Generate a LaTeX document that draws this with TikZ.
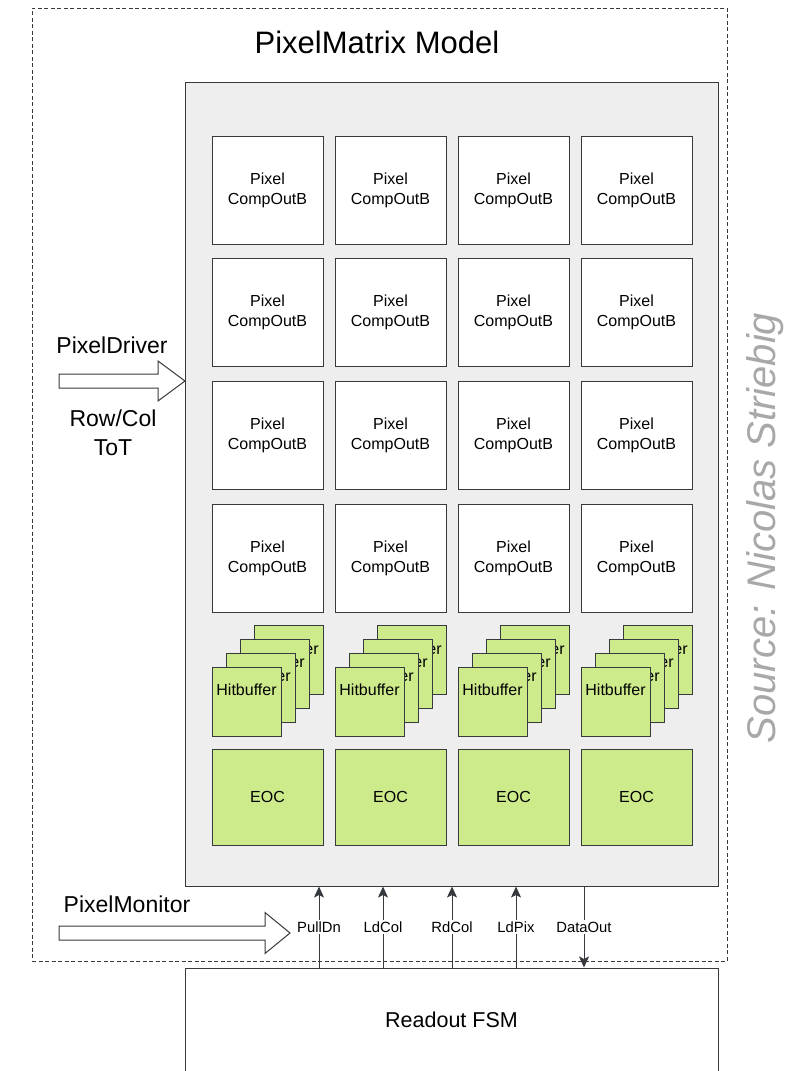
\documentclass[tikz,border=0pt]{standalone}
\usepackage{fontspec}
\setmainfont{Liberation Sans}
\usetikzlibrary{arrows.meta,calc}

\definecolor{panel}{HTML}{EEEEEE}
\definecolor{leaf}{HTML}{CDEB8B}
\definecolor{edge}{HTML}{36393D}
\definecolor{credit}{HTML}{A8A8A8}

\begin{document}
\begin{tikzpicture}[x=1pt, y=-1pt,
    box/.style={draw=edge, line width=1pt, inner sep=0pt, align=center},
    pixbox/.style={box, fill=white, minimum width=111pt, minimum height=108pt, font=\fontsize{16}{20}\selectfont},
    hitbox/.style={box, fill=leaf, minimum width=69pt, minimum height=69pt,
        label={[anchor=center, yshift=-23pt, font=\fontsize{16}{20}\selectfont]north:Hitbuffer}},
    eocbox/.style={box, fill=leaf, minimum width=111pt, minimum height=96pt, font=\fontsize{16}{20}\selectfont},
    bigarrow/.style={draw=edge, fill=white, line width=1pt, line join=miter},
    sig/.style={draw=edge, line width=1pt, -{Stealth[length=11pt, width=10pt, inset=2.5pt]}},
    sigl/.style={fill=white, inner sep=1.5pt, font=\fontsize{14.8}{16}\selectfont},
    side/.style={align=center, font=\fontsize{23}{29}\selectfont}]
    \useasboundingbox (0,0) rectangle (797,1071);
    \node[draw=edge, line width=1pt, dash pattern=on 4pt off 2.5pt, minimum width=695pt, minimum height=953pt] (model) at (379.5,484.5) {};
    \node[font=\fontsize{31}{36}\selectfont] (title) at (377,42) {PixelMatrix Model};
    \node[box, fill=panel, minimum width=533pt, minimum height=804pt] (matrix) at (451.5,484) {};
    \foreach \c in {0,...,3}{
        \foreach \r in {0,...,3}
            \node[pixbox] (px\r\c) at (267.5+123*\c, 190+122.7*\r) {Pixel\\CompOutB};
        \foreach \k in {3,2,1,0}
            \node[hitbox] (hb\c\k) at (246.5+123*\c+14*\k, 701.5-13.7*\k) {};
        \node[eocbox] (eoc\c) at (267.5+123*\c, 797) {EOC};
    }
    \node[box, fill=white, minimum width=533pt, minimum height=104pt, font=\fontsize{21.5}{26}\selectfont] (fsm) at (451.5,1020) {Readout FSM};
    \node[side] (driver) at (112,345) {PixelDriver};
    \node[side] (rowcol) at (113,432.5) {Row/Col\\ToT};
    \node[side] (monitor) at (127,904) {PixelMonitor};
    \coordinate (DrvTip) at (185,381);
    \draw[bigarrow] (DrvTip) -- ++(-27,-20) -- ++(0,13) -- ++(-99,0) -- ++(0,14) -- ++(99,0) -- ++(0,13) -- cycle;
    \coordinate (MonTip) at (290,933);
    \draw[bigarrow] (MonTip) -- ++(-25,-20.5) -- ++(0,13.5) -- ++(-206,0) -- ++(0,14) -- ++(206,0) -- ++(0,13.5) -- cycle;
    \foreach \sname/\sx in {PullDn/319, LdCol/383, RdCol/452, LdPix/516}{
        \coordinate (\sname) at (\sx,0);
        \draw[sig] (fsm.north -| \sname) -- node[sigl] (lab\sname) {\sname} (matrix.south -| \sname);
    }
    \coordinate (DataOut) at (584,0);
    \draw[sig] (matrix.south -| DataOut) -- node[sigl] (labDataOut) {DataOut} (fsm.north -| DataOut);
    \node[rotate=90, text=credit, font=\fontsize{40}{46}\selectfont\itshape] (source) at (765,528) {Source: Nicolas Striebig};
\end{tikzpicture}
\end{document}
